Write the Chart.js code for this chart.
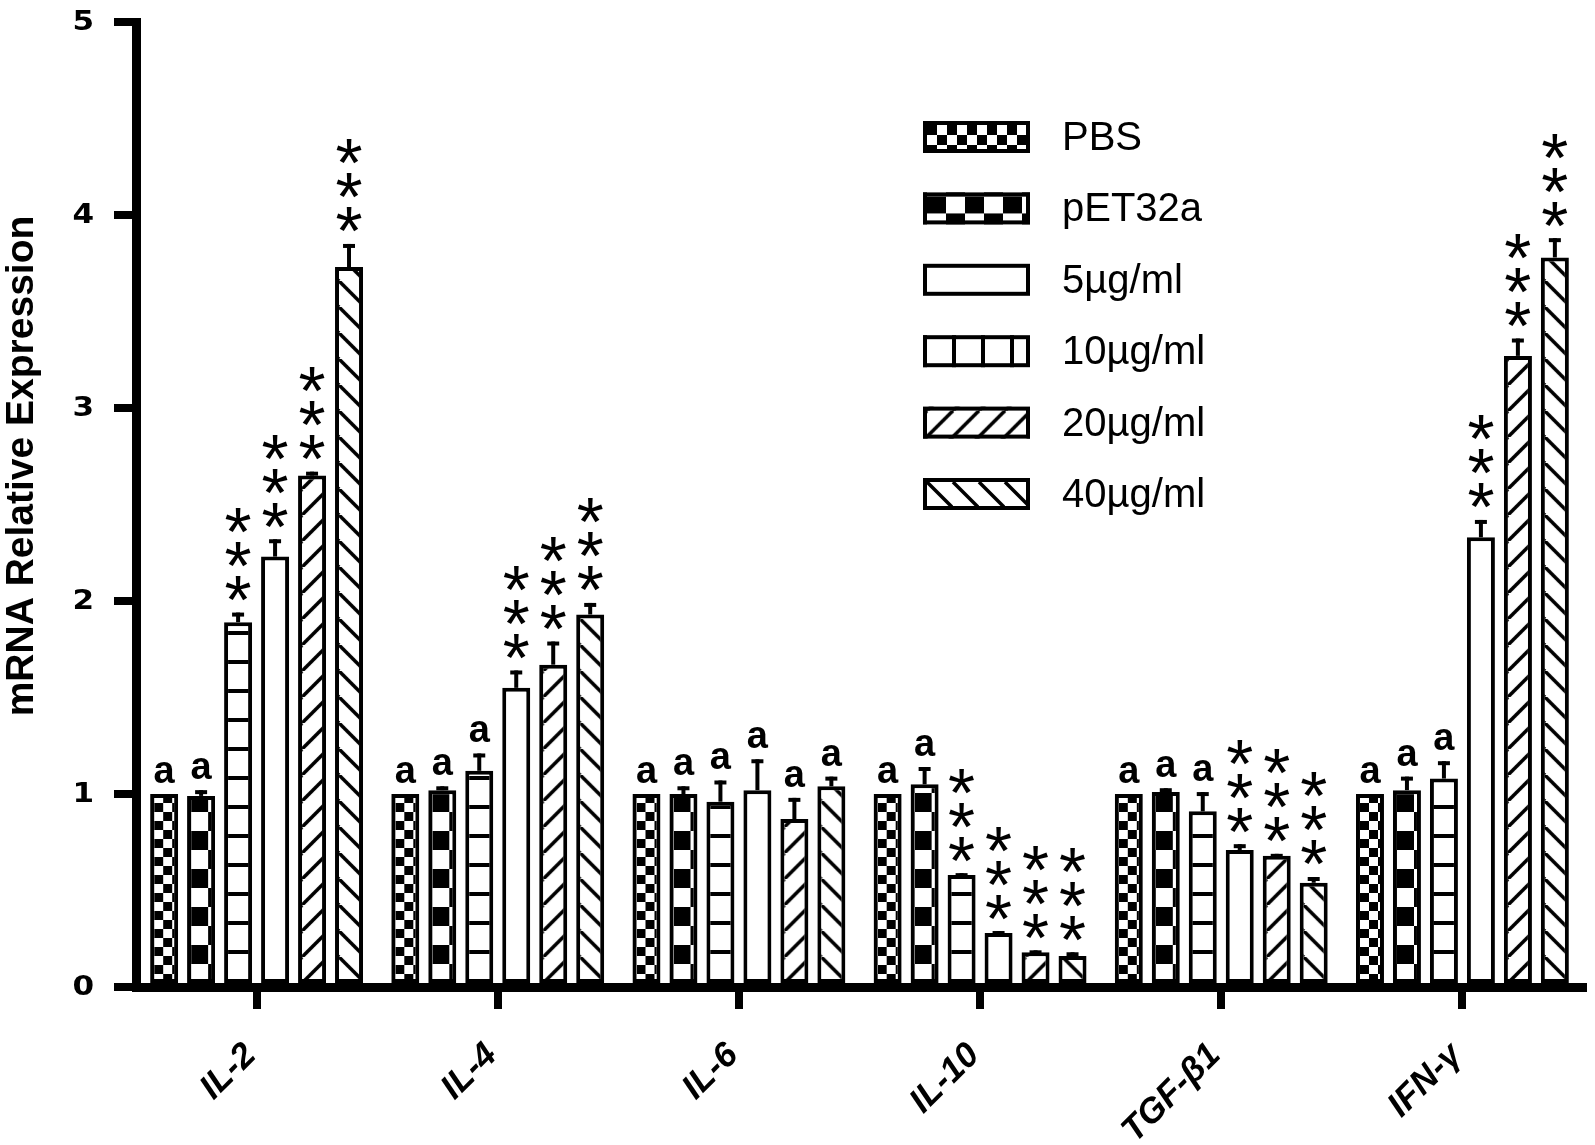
<!DOCTYPE html>
<html lang="en">
<head>
<meta charset="UTF-8">
<title>mRNA Relative Expression</title>
<style>
  html, body { margin: 0; padding: 0; background: #fff; }
  #wrap { width: 1595px; height: 1145px; }
</style>
</head>
<body>
<div id="wrap"><canvas id="chart" width="1595" height="1145"></canvas></div>

<script src="https://cdn.jsdelivr.net/npm/chart.js"></script>
<script>
// ---- data ----
const cytokines = ['IL-2', 'IL-4', 'IL-6', 'IL-10', 'TGF-β1', 'IFN-γ'];
const groups = ['PBS', 'pET32a', '5µg/ml', '10µg/ml', '20µg/ml', '40µg/ml'];

const pbs    = [1.00, 1.00, 1.00, 1.00, 1.00, 1.00];
const pet32a = [0.99, 1.02, 1.00, 1.05, 1.01, 1.02];
const dose5  = [1.89, 1.12, 0.96, 0.58, 0.91, 1.08];
const dose10 = [2.23, 1.55, 1.02, 0.28, 0.71, 2.33];
const dose20 = [2.65, 1.67, 0.87, 0.18, 0.68, 3.27];
const dose40 = [3.73, 1.93, 1.04, 0.16, 0.54, 3.78];

const pbsErr    = [0, 0, 0, 0, 0, 0];
const pet32aErr = [0.03, 0.02, 0.04, 0.09, 0.02, 0.07];
const dose5Err  = [0.05, 0.09, 0.11, 0.01, 0.10, 0.09];
const dose10Err = [0.09, 0.09, 0.16, 0.01, 0.03, 0.09];
const dose20Err = [0.02, 0.12, 0.11, 0.01, 0.01, 0.09];
const dose40Err = [0.12, 0.06, 0.05, 0.02, 0.03, 0.10];

const pbsSig    = ['a', 'a', 'a', 'a', 'a', 'a'];
const pet32aSig = ['a', 'a', 'a', 'a', 'a', 'a'];
const dose5Sig  = ['***', 'a', 'a', '***', 'a', 'a'];
const dose10Sig = ['***', '***', 'a', '***', '***', '***'];
const dose20Sig = ['***', '***', 'a', '***', '***', '***'];
const dose40Sig = ['***', '***', 'a', '***', '***', '***'];

const yTicks = [0, 1, 2, 3, 4, 5];

const values = [pbs, pet32a, dose5, dose10, dose20, dose40];
const errors = [pbsErr, pet32aErr, dose5Err, dose10Err, dose20Err, dose40Err];
const marks  = [pbsSig, pet32aSig, dose5Sig, dose10Sig, dose20Sig, dose40Sig];

// ---- fill patterns ----
const FONT = "'Liberation Sans', Arial, sans-serif";
const canvas = document.getElementById('chart');
const ctx = canvas.getContext('2d');
const BORDER = 4;

function tile(w, h, paint) {
  const c = document.createElement('canvas');
  c.width = w; c.height = h;
  const g = c.getContext('2d');
  g.fillStyle = '#fff';
  g.fillRect(0, 0, w, h);
  g.fillStyle = '#000';
  g.strokeStyle = '#000';
  paint(g, w, h);
  return ctx.createPattern(c, 'repeat');
}

const paints = {
  checker: (n) => [2 * n, 2 * n, g => { g.fillRect(0, 0, n, n); g.fillRect(n, n, n, n); }],
  blocks: (w, h) => [2 * w, 2 * h, g => { g.fillRect(0, 0, w, h); g.fillRect(w, h, w, h); }],
  hlines: (p) => [8, p, g => g.fillRect(0, p - 4, 8, 4)],
  vlines: (p) => [p, 8, g => g.fillRect(p - 4, 0, 4, 8)],
  plain: () => [4, 4, () => {}],
  up: (p) => [p, p, g => {
    g.lineWidth = 3.5;
    for (let k = -1; k <= 1; k++) { g.beginPath(); g.moveTo(k * p, p); g.lineTo(k * p + p, 0); g.stroke(); }
  }],
  down: (p) => [p, p, g => {
    g.lineWidth = 3.5;
    for (let k = -1; k <= 1; k++) { g.beginPath(); g.moveTo(k * p, 0); g.lineTo(k * p + p, p); g.stroke(); }
  }]
};

function makePattern(spec) {
  const [w, h, fn] = spec;
  return tile(w, h, fn);
}

// bar fills (as they appear in the bars) and legend fills (as drawn in the key)
const barSpecs = [
  () => paints.checker(9),
  () => paints.blocks(17, 19),
  () => paints.hlines(29),
  () => paints.plain(),
  () => paints.up(26),
  () => paints.down(26)
];
const legendSpecs = [
  () => paints.checker(10),
  () => paints.blocks(19, 17),
  () => paints.plain(),
  () => paints.vlines(29),
  () => paints.up(26),
  () => paints.down(26)
];

const barPatterns = barSpecs.map(s => cytokines.map(() => makePattern(s())));
const legendPatterns = legendSpecs.map(s => makePattern(s()));

// ---- plugins ----
const patternAnchor = {
  id: 'patternAnchor',
  beforeDatasetsDraw(chart) {
    chart.data.datasets.forEach((ds, i) => {
      chart.getDatasetMeta(i).data.forEach((el, j) => {
        const p = el.getProps(['x', 'width', 'base'], true);
        barPatterns[i][j].setTransform(new DOMMatrix().translate(p.x - p.width / 2 + BORDER, p.base));
      });
    });
  }
};

const errorsAndMarks = {
  id: 'errorsAndMarks',
  afterDatasetsDraw(chart) {
    const c = chart.ctx;
    const y = chart.scales.y;
    c.save();
    c.fillStyle = '#000';
    c.strokeStyle = '#000';

    // asterisk size, measured so each glyph is ~25px tall
    c.font = '100px ' + FONT;
    const m = c.measureText('*');
    const glyphH = m.actualBoundingBoxAscent + m.actualBoundingBoxDescent;
    const starSize = 100 * 25 / glyphH;
    c.font = starSize + 'px ' + FONT;
    const sm = c.measureText('*');
    const starShift = (sm.actualBoundingBoxAscent - sm.actualBoundingBoxDescent) / 2;

    chart.data.datasets.forEach((ds, i) => {
      chart.getDatasetMeta(i).data.forEach((el, j) => {
        const v = values[i][j];
        const e = errors[i][j];
        const yBar = y.getPixelForValue(v);
        const yTop = y.getPixelForValue(v + e);
        if (e > 0) {
          c.lineWidth = 4;
          c.beginPath();
          c.moveTo(el.x, yBar);
          c.lineTo(el.x, yTop);
          c.stroke();
          c.beginPath();
          c.moveTo(el.x - 6, yTop + 2);
          c.lineTo(el.x + 6, yTop + 2);
          c.stroke();
        }
        const label = marks[i][j];
        c.textAlign = 'center';
        c.textBaseline = 'alphabetic';
        if (label === 'a') {
          c.font = 'bold 38px ' + FONT;
          c.fillText('a', el.x, yTop - 11);
        } else {
          c.font = starSize + 'px ' + FONT;
          for (let k = 0; k < label.length; k++) {
            const cy = yTop - 24 - k * 34;
            c.fillText('*', el.x, cy + starShift);
          }
        }
      });
    });
    c.restore();
  }
};

const keyAndTitle = {
  id: 'keyAndTitle',
  afterDraw(chart) {
    const c = chart.ctx;
    const y = chart.scales.y;
    c.save();
    // y tick numbers (heavy, slightly wide digits)
    c.fillStyle = '#000';
    c.font = "bold 27px 'DejaVu Sans', sans-serif";
    c.textAlign = 'right';
    c.textBaseline = 'middle';
    yTicks.forEach(v => {
      c.save();
      c.translate(94, y.getPixelForValue(v) + 1);
      c.scale(1.15, 1);
      c.fillText(String(v), 0, 0);
      c.restore();
    });

    // key
    const bx = 923, bw = 107, bh = 32;
    groups.forEach((name, i) => {
      const cy = 137 + i * 71.4;
      const top = cy - bh / 2;
      const pat = legendPatterns[i];
      pat.setTransform(new DOMMatrix().translate(bx + BORDER, top + BORDER));
      c.fillStyle = pat;
      c.fillRect(bx, top, bw, bh);
      c.lineWidth = BORDER;
      c.strokeStyle = '#000';
      c.strokeRect(bx + BORDER / 2, top + BORDER / 2, bw - BORDER, bh - BORDER);
      c.fillStyle = '#000';
      c.font = '40px ' + FONT;
      c.textAlign = 'left';
      c.textBaseline = 'middle';
      c.fillText(name, 1062, cy + 2);
    });
    // y title
    c.translate(22, 466);
    c.rotate(-Math.PI / 2);
    c.font = 'bold 39px ' + FONT;
    c.textAlign = 'center';
    c.textBaseline = 'middle';
    c.fillStyle = '#000';
    c.fillText('mRNA Relative Expression', 0, 0);
    c.restore();
  }
};

// ---- chart ----
new Chart(canvas, {
  type: 'bar',
  data: {
    labels: cytokines,
    datasets: groups.map((g, i) => ({
      label: g,
      data: values[i],
      backgroundColor: (cx) => barPatterns[i][cx.dataIndex ?? 0] || barPatterns[i][0],
      borderColor: '#000',
      borderWidth: BORDER,
      borderSkipped: false,
      categoryPercentage: 0.92,
      barPercentage: 0.757
    }))
  },
  options: {
    responsive: false,
    animation: false,
    events: [],
    layout: { padding: { top: 22, right: 12, left: 0, bottom: 0 } },
    plugins: {
      legend: { display: false },
      tooltip: { enabled: false }
    },
    scales: {
      x: {
        afterFit: s => { s.height = 158; },
        grid: { offset: false, drawOnChartArea: false, tickLength: 22, lineWidth: 8, color: '#000' },
        border: { width: 9, color: '#000' },
        ticks: {
          color: '#000',
          autoSkip: false,
          minRotation: 45,
          maxRotation: 45,
          padding: 26,
          labelOffset: -6,
          font: { family: FONT, size: 35, weight: 'bold', style: 'italic' }
        }
      },
      y: {
        min: 0,
        max: 5,
        afterFit: s => { s.width = 136; },
        afterBuildTicks: s => { s.ticks = yTicks.map(v => ({ value: v })); },
        grid: { drawOnChartArea: false, tickLength: 22, lineWidth: 8, color: '#000' },
        border: { width: 9, color: '#000' },
        ticks: { display: false }
      }
    }
  },
  plugins: [patternAnchor, errorsAndMarks, keyAndTitle]
});
</script>
</body>
</html>
